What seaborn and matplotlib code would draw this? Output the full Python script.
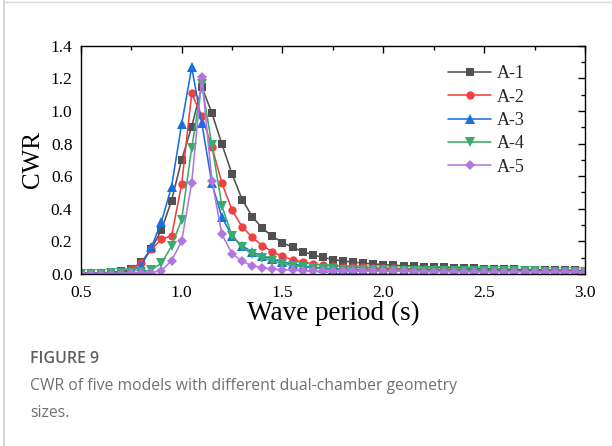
import numpy as np
import pandas as pd
import matplotlib
matplotlib.use("Agg")
import matplotlib.pyplot as plt
from matplotlib.ticker import MultipleLocator, FormatStrFormatter
from matplotlib.lines import Line2D
import seaborn as sns

# Wave period grid (s)
period = np.round(np.arange(0.5, 3.0001, 0.05), 2)

# CWR of each model
cwr_a1 = [0.004, 0.005, 0.006, 0.009, 0.015, 0.030, 0.070, 0.155, 0.270, 0.450,
          0.700, 0.905, 1.148, 0.988, 0.795, 0.612, 0.456, 0.352, 0.279, 0.232,
          0.192, 0.163, 0.137, 0.117, 0.101, 0.088, 0.079, 0.072, 0.066, 0.061,
          0.057, 0.053, 0.050, 0.047, 0.044, 0.042, 0.040, 0.038, 0.036, 0.034,
          0.032, 0.030, 0.029, 0.027, 0.026, 0.025, 0.024, 0.023, 0.022, 0.021,
          0.020]
cwr_a2 = [0.003, 0.004, 0.005, 0.008, 0.014, 0.030, 0.065, 0.150, 0.214, 0.232,
          0.550, 1.108, 0.968, 0.780, 0.556, 0.391, 0.289, 0.224, 0.173, 0.135,
          0.107, 0.087, 0.072, 0.062, 0.054, 0.049, 0.045, 0.042, 0.039, 0.037,
          0.035, 0.033, 0.032, 0.030, 0.029, 0.028, 0.027, 0.026, 0.025, 0.024,
          0.023, 0.022, 0.022, 0.021, 0.020, 0.020, 0.019, 0.019, 0.018, 0.018,
          0.017]
cwr_a3 = [0.002, 0.003, 0.004, 0.006, 0.010, 0.020, 0.050, 0.163, 0.320, 0.535,
          0.920, 1.268, 0.925, 0.555, 0.347, 0.232, 0.172, 0.135, 0.110, 0.090,
          0.073, 0.060, 0.050, 0.040, 0.035, 0.032, 0.029, 0.027, 0.026, 0.025,
          0.024, 0.023, 0.022, 0.021, 0.021, 0.020, 0.020, 0.019, 0.019, 0.018,
          0.018, 0.017, 0.017, 0.017, 0.016, 0.016, 0.016, 0.015, 0.015, 0.015,
          0.014]
cwr_a4 = [0.001, 0.002, 0.002, 0.003, 0.004, 0.006, 0.010, 0.025, 0.065, 0.170,
          0.333, 0.774, 1.165, 0.790, 0.415, 0.234, 0.163, 0.122, 0.098, 0.078,
          0.062, 0.051, 0.042, 0.036, 0.031, 0.028, 0.026, 0.024, 0.023, 0.022,
          0.021, 0.020, 0.020, 0.019, 0.019, 0.018, 0.018, 0.017, 0.017, 0.017,
          0.016, 0.016, 0.016, 0.015, 0.015, 0.015, 0.014, 0.014, 0.014, 0.013,
          0.013]
cwr_a5 = [0.001, 0.001, 0.001, 0.002, 0.002, 0.003, 0.004, 0.008, 0.020, 0.081,
          0.200, 0.560, 1.210, 0.572, 0.242, 0.124, 0.076, 0.051, 0.037, 0.029,
          0.025, 0.022, 0.020, 0.018, 0.017, 0.017, 0.016, 0.016, 0.016, 0.015,
          0.015, 0.015, 0.015, 0.014, 0.014, 0.014, 0.014, 0.014, 0.013, 0.013,
          0.013, 0.013, 0.013, 0.013, 0.013, 0.012, 0.012, 0.012, 0.012, 0.012,
          0.012]

models = ["A-1", "A-2", "A-3", "A-4", "A-5"]
series = [cwr_a1, cwr_a2, cwr_a3, cwr_a4, cwr_a5]
colors = ["#515151", "#F14040", "#1A6FDF", "#37AD6B", "#B177DE"]
markers = ["s", "o", "^", "v", "D"]
msizes = [5.6, 6.0, 6.8, 6.8, 5.4]

SERIF = ["Liberation Serif", "DejaVu Serif"]
SANS = ["Open Sans", "DejaVu Sans"]

sns.set_theme(style="white")
plt.rcParams["font.family"] = SERIF

fig = plt.figure(figsize=(6.12, 4.46), dpi=100)
ax = fig.add_axes([0.132, 0.386, 0.824, 0.511])

handles = []
for name, vals, c, m, ms in zip(models, series, colors, markers, msizes):
    df = pd.DataFrame({"period": period, "cwr": vals})
    sns.lineplot(data=df, x="period", y="cwr", ax=ax, color=c, marker=m,
                 markersize=ms, markeredgewidth=0, linewidth=1.15,
                 legend=False)
    handles.append(Line2D([0], [0], color=c, marker=m, markersize=ms,
                          markeredgewidth=0, linewidth=1.15, label=name))

ax.set_xlim(0.5, 3.0)
ax.set_ylim(0.0, 1.4)
ax.xaxis.set_major_locator(MultipleLocator(0.5))
ax.xaxis.set_minor_locator(MultipleLocator(0.25))
ax.yaxis.set_major_locator(MultipleLocator(0.2))
ax.yaxis.set_minor_locator(MultipleLocator(0.1))
ax.xaxis.set_major_formatter(FormatStrFormatter("%.1f"))
ax.yaxis.set_major_formatter(FormatStrFormatter("%.1f"))
ax.tick_params(which="both", direction="in", top=True, right=True,
               colors="black", width=1.0)
ax.tick_params(which="major", length=5, labelsize=12.5,
               labelfontfamily="Liberation Serif")
ax.tick_params(which="minor", length=3)
ax.tick_params(axis="x", which="major", pad=8)
ax.tick_params(axis="y", which="major", pad=6)
for s in ax.spines.values():
    s.set_color("black")
    s.set_linewidth(1.0)

ax.set_xlabel("Wave period (s)", fontsize=19.5, labelpad=0, color="black",
              family=SERIF)
ax.set_ylabel("CWR", fontsize=18, labelpad=5, color="black", family=SERIF)

leg = ax.legend(handles=handles, loc="upper left", frameon=False,
                handlelength=2.4, handletextpad=0.3,
                labelspacing=0.35, borderpad=0, borderaxespad=0,
                bbox_to_anchor=(0.728, 0.915),
                prop={"family": "Liberation Serif", "size": 13})

# Page frame lines
fig.add_artist(Line2D([0.006, 0.006], [0.0, 1.0], color="#d0d0d0", lw=1.2,
                      transform=fig.transFigure))
fig.add_artist(Line2D([0.006, 1.0], [0.995, 0.995], color="#d9d9d9", lw=1.0,
                      transform=fig.transFigure))

# Caption
fig.text(0.049, 0.186, "FIGURE 9", fontsize=11.5, color="#5f5f5f",
         family=SANS, weight="semibold")
fig.text(0.049, 0.125, "CWR of five models with different dual-chamber geometry",
         fontsize=11.3, color="#707070", family=SANS)
fig.text(0.049, 0.066, "sizes.", fontsize=11.3, color="#707070", family=SANS)

fig.savefig("out.png", dpi=100, facecolor="white")
